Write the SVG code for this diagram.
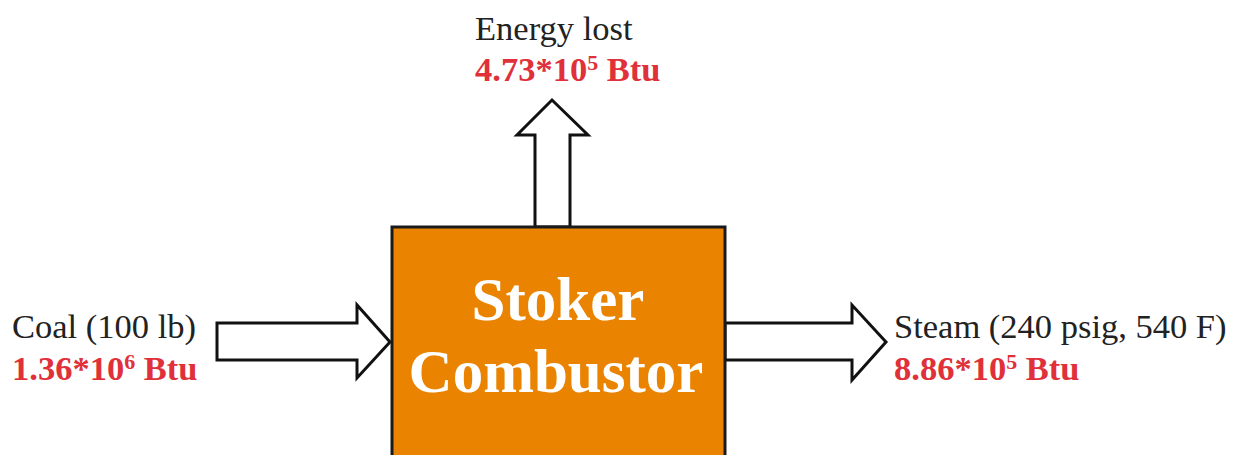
<svg xmlns="http://www.w3.org/2000/svg" width="1235" height="455" viewBox="0 0 1235 455">
<style>
.lbl{font-family:"Liberation Serif","Times New Roman",serif;font-size:34.5px;fill:#222}
.val{font-family:"Liberation Serif","Times New Roman",serif;font-size:34.5px;font-weight:bold;fill:#E0303A}
.sup{font-size:22px}
.arrow{fill:#fff;stroke:#111;stroke-width:3;stroke-linejoin:miter}
.box{fill:#E98300;stroke:#1a1a1a;stroke-width:3}
.title{font-family:"Liberation Serif","Times New Roman",serif;font-size:61px;font-weight:bold;fill:#fff;text-anchor:middle}
</style>
<g id="connectors">
<polygon class="arrow" points="535,227 535,135 517,135 552,100 588,135 570,135 570,227"/>
<polygon class="arrow" points="217,323 357,323 357,305 390,342 357,378 357,360 217,360"/>
<polygon class="arrow" points="725,323 852,323 852,305 886,342 852,380 852,360 725,360"/>
</g>
<g id="combustor">
<rect class="box" x="392" y="227" width="333" height="240"/>
<text class="title" x="558" y="320">Stoker</text>
<text class="title" x="556" y="392">Combustor</text>
</g>
<g id="energy-lost">
<text class="lbl" x="475" y="40">Energy lost</text>
<text class="val" x="475" y="81">4.73*10<tspan class="sup" dy="-11">5</tspan><tspan dy="11"> Btu</tspan></text>
</g>
<g id="coal">
<text class="lbl" x="12" y="338">Coal (100 lb)</text>
<text class="val" x="12" y="380">1.36*10<tspan class="sup" dy="-11">6</tspan><tspan dy="11"> Btu</tspan></text>
</g>
<g id="steam">
<text class="lbl" x="894" y="338">Steam (240 psig, 540 F)</text>
<text class="val" x="894" y="380">8.86*10<tspan class="sup" dy="-11">5</tspan><tspan dy="11"> Btu</tspan></text>
</g>
</svg>
